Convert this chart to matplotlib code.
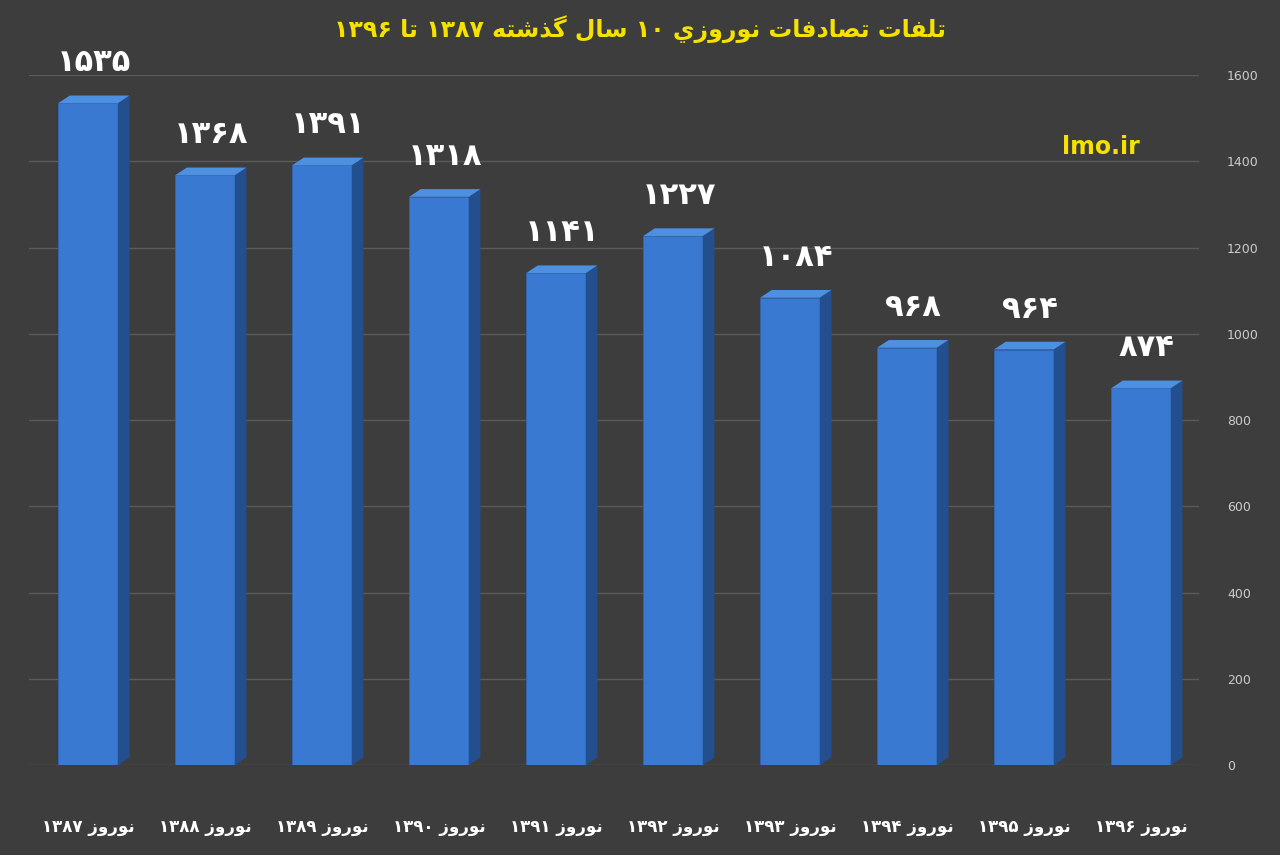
import matplotlib
matplotlib.use("Agg")
import matplotlib.pyplot as plt
from matplotlib.patches import Polygon

years = ["۱۳۸۷", "۱۳۸۸", "۱۳۸۹", "۱۳۹۰", "۱۳۹۱", "۱۳۹۲", "۱۳۹۳", "۱۳۹۴", "۱۳۹۵", "۱۳۹۶"]
values = [1535, 1368, 1391, 1318, 1141, 1227, 1084, 968, 964, 874]
value_labels = ["۱۵۳۵", "۱۳۶۸", "۱۳۹۱", "۱۳۱۸", "۱۱۴۱", "۱۲۲۷", "۱۰۸۴", "۹۶۸", "۹۶۴", "۸۷۴"]
title = "تلفات تصادفات نوروزي ۱۰ سال گذشته ۱۳۸۷ تا ۱۳۹۶"
yticks = [0, 200, 400, 600, 800, 1000, 1200, 1400, 1600]

FORMS = {
    'ا': (0xFE8D, 0xFE8E, None, None), 'ت': (0xFE95, 0xFE96, 0xFE97, 0xFE98),
    'ل': (0xFEDD, 0xFEDE, 0xFEDF, 0xFEE0), 'ف': (0xFED1, 0xFED2, 0xFED3, 0xFED4),
    'ص': (0xFEB9, 0xFEBA, 0xFEBB, 0xFEBC), 'د': (0xFEA9, 0xFEAA, None, None),
    'ذ': (0xFEAB, 0xFEAC, None, None), 'ر': (0xFEAD, 0xFEAE, None, None),
    'ز': (0xFEAF, 0xFEB0, None, None), 'و': (0xFEED, 0xFEEE, None, None),
    'ي': (0xFEF1, 0xFEF2, 0xFEF3, 0xFEF4), 'س': (0xFEB1, 0xFEB2, 0xFEB3, 0xFEB4),
    'ش': (0xFEB5, 0xFEB6, 0xFEB7, 0xFEB8), 'ه': (0xFEE9, 0xFEEA, 0xFEEB, 0xFEEC),
    'ن': (0xFEE5, 0xFEE6, 0xFEE7, 0xFEE8), 'گ': (0xFB92, 0xFB93, 0xFB94, 0xFB95),
}

def dual(c):
    return c in FORMS and FORMS[c][2] is not None

def shape(s):
    out = []
    for i, c in enumerate(s):
        if c not in FORMS:
            out.append(c); continue
        prev = s[i-1] if i > 0 else ''
        nxt = s[i+1] if i + 1 < len(s) else ''
        jp = dual(prev)
        jn = dual(c) and nxt in FORMS
        f = FORMS[c]
        if jp and jn: k = 3
        elif jn: k = 2
        elif jp: k = 1
        else: k = 0
        out.append(chr(f[k]))
    shaped = ''.join(out)
    runs, cur, isd = [], '', None
    for ch in shaped:
        d = ch.isdigit()
        if isd is None or d == isd:
            cur += ch
        else:
            runs.append((cur, isd)); cur = ch
        isd = d
    runs.append((cur, isd))
    vis = [r if d else r[::-1] for r, d in runs[::-1]]
    return ''.join(vis)

plt.rcParams['font.family'] = ['DejaVu Sans']
bg = '#3d3d3d'
fig = plt.figure(figsize=(12.8, 8.55), dpi=100, facecolor=bg)
ax = fig.add_axes([0.023, 0.105, 0.914, 0.807], facecolor=bg)
ax.set_xlim(-0.5, 9.5)
ax.set_ylim(0, 1600)
for t in yticks:
    ax.axhline(t, color='#5a5a5a', lw=1, zorder=0)

w = 0.51
dx, dy = 0.1, 18
x = list(range(len(values)))
ax.bar(x, values, width=w, color='#3a79d2', edgecolor='#2f66b5', lw=0.5, zorder=3)
for xi, v in zip(x, values):
    l, r = xi - w/2, xi + w/2
    ax.add_patch(Polygon([(r, 0), (r + dx, dy), (r + dx, v + dy), (r, v)], closed=True,
                         facecolor='#234f8e', edgecolor='none', zorder=3))
    ax.add_patch(Polygon([(l, v), (r, v), (r + dx, v + dy), (l + dx, v + dy)], closed=True,
                         facecolor='#4d8fe0', edgecolor='none', zorder=3))
for xi, v, lab in zip(x, values, value_labels):
    ax.text(xi + 0.05, v + 60, lab, ha='center', va='bottom', color='white',
            fontsize=22, fontweight='bold', zorder=4)

ax.set_xticks(x)
ax.set_xticklabels([shape('نوروز ' + y) if False else y + ' ' + shape('نوروز') for y in years],
                   color='white', fontsize=12, fontweight='bold')
ax.tick_params(axis='x', length=0, pad=38)
ax.yaxis.tick_right()
ax.set_yticks(yticks)
ax.set_yticklabels([str(t) for t in yticks], color='#cccccc', fontsize=9)
ax.tick_params(axis='y', length=0, pad=20)
for s in ax.spines.values():
    s.set_visible(False)

fig.text(0.50, 0.966, shape(title), ha='center', va='center', color='#f5e200',
         fontsize=17, fontweight='bold')
fig.text(0.86, 0.828, 'lmo.ir', ha='center', va='center', color='#f5e200',
         fontsize=17, fontweight='bold')
fig.savefig('out.png', dpi=100, facecolor=bg)
